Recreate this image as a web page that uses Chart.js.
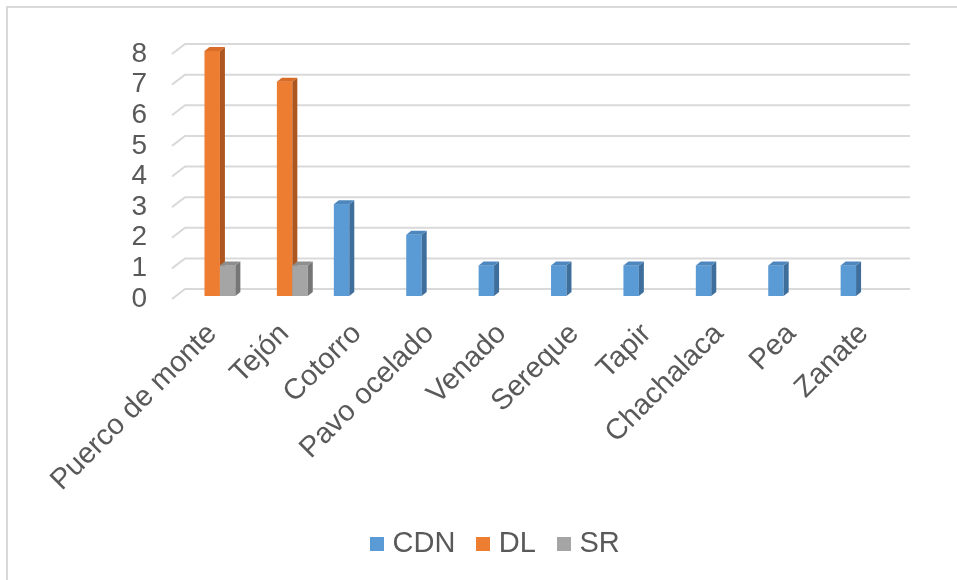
<!DOCTYPE html>
<html>
<head>
<meta charset="utf-8">
<script src="https://cdn.jsdelivr.net/npm/chart.js@4.4.1/dist/chart.umd.min.js"></script>
<style>
  html, body { margin: 0; padding: 0; background: #ffffff; }
  #wrap { position: relative; width: 957px; height: 580px; overflow: hidden; }
  #frame { position: absolute; left: 6px; top: 6px; right: -10px; bottom: -10px;
           border-left: 2px solid #d9d9d9; border-top: 2px solid #d9d9d9; }
  canvas { position: absolute; left: 0; top: 0; }
</style>
</head>
<body>
<div id="wrap">
  <div id="frame"></div>
  <canvas id="c" width="957" height="580"></canvas>
</div>
<script>
// Animals recorded per group
const categories = ['Puerco de monte', 'Tejón', 'Cotorro', 'Pavo ocelado', 'Venado',
                    'Sereque', 'Tapir', 'Chachalaca', 'Pea', 'Zanate'];
const cdnValues = [0, 0, 3, 2, 1, 1, 1, 1, 1, 1];
const dlValues  = [8, 7, 0, 0, 0, 0, 0, 0, 0, 0];
const srValues  = [1, 1, 0, 0, 0, 0, 0, 0, 0, 0];
const seriesNames = ['CDN', 'DL', 'SR'];

const FONT = '"Liberation Sans", Arial, sans-serif';
const TEXT = '#595959';
const DEPTH = { dx: 5, dy: -4 };
const LEGEND_START = 376;

// Small square swatch used as the legend marker
function swatch(color) {
  const c = document.createElement('canvas');
  c.width = 14; c.height = 14;
  const g = c.getContext('2d');
  g.fillStyle = color;
  g.fillRect(0, 0, 14, 14);
  return c;
}

// Draws the back-wall gridlines and the columns with side and top faces
const columns3d = {
  id: 'columns3d',
  afterLayout(chart) {
    const lg = chart.legend;
    const pad = lg.options.labels.padding;
    const shift = LEGEND_START - (lg.left + pad);
    lg.left += shift;
    lg.right += shift;
  },
  beforeDatasetsDraw(chart) {
    const { ctx, chartArea: a, scales: { y } } = chart;
    ctx.save();
    ctx.strokeStyle = '#d9d9d9';
    ctx.lineWidth = 2;
    y.ticks.forEach(t => {
      const py = y.getPixelForValue(t.value);
      ctx.beginPath();
      ctx.moveTo(a.left - 4, py + 3);
      ctx.lineTo(a.left + 9, py - 7);
      ctx.lineTo(a.right + 10, py - 7);
      ctx.stroke();
    });

    const metas = chart.data.datasets.map((d, i) => chart.getDatasetMeta(i));
    for (let j = 0; j < categories.length; j++) {
      metas.forEach((m, i) => {
        const el = m.data[j];
        const ds = chart.data.datasets[i];
        const top = Math.min(el.y, el.base);
        const bottom = Math.max(el.y, el.base);
        if (bottom - top < 0.5) return;
        const x0 = el.x - el.width / 2;
        const x1 = el.x + el.width / 2;
        const { dx, dy } = DEPTH;
        // front face
        ctx.fillStyle = ds.backgroundColor;
        ctx.fillRect(x0, top, x1 - x0, bottom - top);
        // side face
        ctx.fillStyle = ds.sideColor;
        ctx.beginPath();
        ctx.moveTo(x1, top);
        ctx.lineTo(x1 + dx, top + dy);
        ctx.lineTo(x1 + dx, bottom + dy);
        ctx.lineTo(x1, bottom);
        ctx.closePath();
        ctx.fill();
        // top face
        ctx.fillStyle = ds.topColor;
        ctx.beginPath();
        ctx.moveTo(x0, top);
        ctx.lineTo(x0 + dx, top + dy);
        ctx.lineTo(x1 + dx, top + dy);
        ctx.lineTo(x1, top);
        ctx.closePath();
        ctx.fill();
      });
    }
    ctx.restore();
    return false;
  }
};

new Chart(document.getElementById('c'), {
  type: 'bar',
  data: {
    labels: categories,
    datasets: [
      { label: seriesNames[0], data: cdnValues, backgroundColor: '#5b9bd5', sideColor: '#3e6f9c', topColor: '#4d87bd' },
      { label: seriesNames[1], data: dlValues,  backgroundColor: '#ed7d31', sideColor: '#ae561f', topColor: '#d96c27' },
      { label: seriesNames[2], data: srValues,  backgroundColor: '#a5a5a5', sideColor: '#767676', topColor: '#8e8e8e' }
    ]
  },
  options: {
    responsive: false,
    animation: false,
    events: [],
    categoryPercentage: 0.64,
    barPercentage: 1.0,
    layout: { padding: { left: 0, right: 57, top: 51, bottom: 12 } },
    plugins: {
      tooltip: { enabled: false },
      legend: {
        position: 'bottom',
        align: 'start',
        labels: {
          usePointStyle: true, pointStyleWidth: 2,
          boxWidth: 14, boxHeight: 14, padding: 27,
          color: TEXT, font: { family: FONT, size: 29 },
          generateLabels(chart) {
            const items = Chart.defaults.plugins.legend.labels.generateLabels(chart);
            items.forEach(it => {
              it.pointStyle = swatch(chart.data.datasets[it.datasetIndex].backgroundColor);
            });
            return items;
          }
        }
      }
    },
    scales: {
      x: {
        grid: { display: false },
        border: { display: false },
        ticks: {
          autoSkip: false, maxRotation: 45, minRotation: 45,
          padding: 13, color: TEXT, font: { family: FONT, size: 29 }
        },
        afterFit(s) { s.height = 206; }
      },
      y: {
        min: 0, max: 8,
        grid: { display: false, drawTicks: false },
        border: { display: false },
        ticks: {
          stepSize: 1, autoSkip: false, padding: 29, labelOffset: 3,
          color: TEXT, font: { family: FONT, size: 28 }
        },
        afterFit(s) { s.width = 176; }
      }
    }
  },
  plugins: [columns3d]
});
</script>
</body>
</html>
